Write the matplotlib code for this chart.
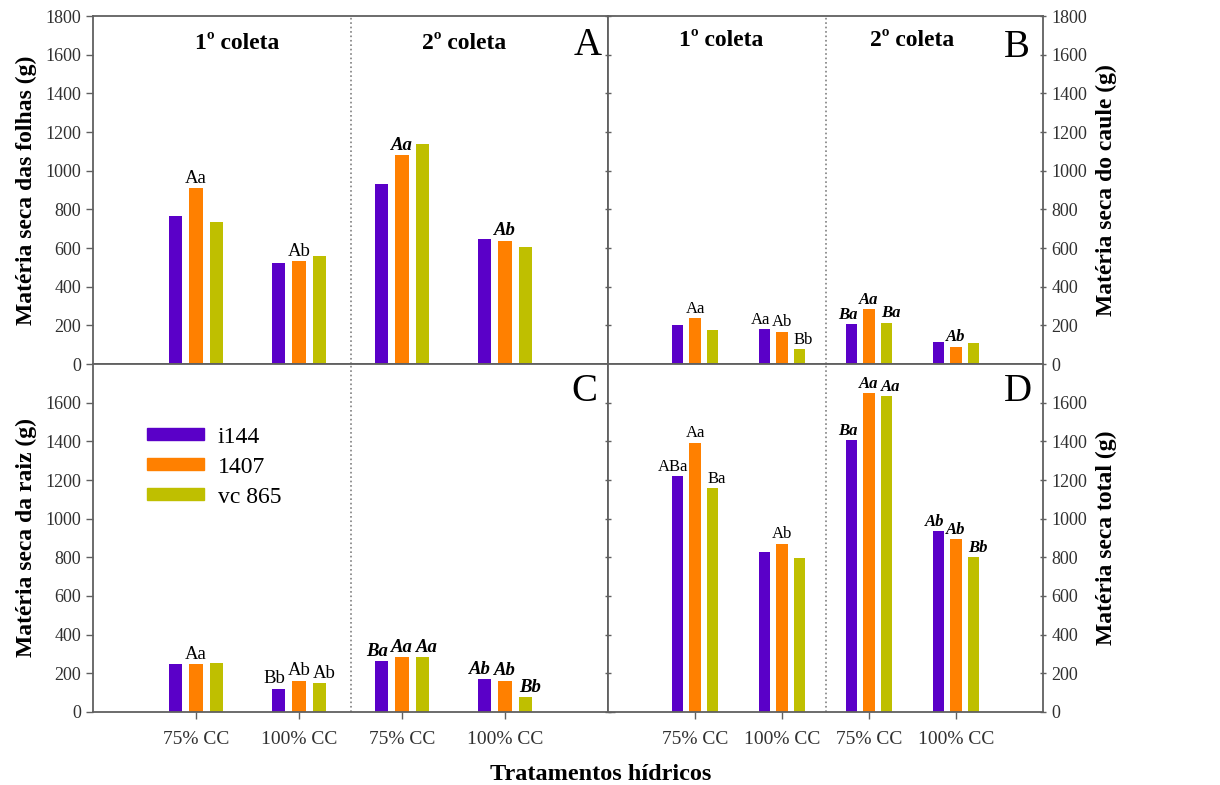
#!/usr/bin/env python3

import numpy as np
import matplotlib
matplotlib.use('Agg')
from matplotlib import pyplot as plt
from matplotlib.patches import Patch

plt.rcParams['font.family'] = ['Liberation Serif', 'DejaVu Serif']

groups = ['75% CC', '100% CC', '75% CC', '100% CC']
cultivars = ['i144', '1407', 'vc 865']
colors = ['#5a00c8', '#ff8000', '#bfbf00']

# values per group (1a coleta 75%, 100%, 2a coleta 75%, 100%)
folhas_i144 = [765, 521, 933, 645]
folhas_1407 = [908, 531, 1080, 637]
folhas_vc865 = [733, 559, 1137, 607]

caule_i144 = [200, 181, 205, 114]
caule_1407 = [236, 167, 283, 90]
caule_vc865 = [176, 76, 214, 110]

raiz_i144 = [247, 121, 263, 170]
raiz_1407 = [247, 161, 282, 161]
raiz_vc865 = [251, 150, 282, 76]

total_i144 = [1219, 827, 1406, 936]
total_1407 = [1392, 870, 1648, 894]
total_vc865 = [1159, 796, 1634, 801]

# letters above bars, one row per group
folhas_lbl = [['', 'Aa', ''], ['', 'Ab', ''], ['', 'Aa', ''], ['', 'Ab', '']]
caule_lbl = [['', 'Aa', ''], ['Aa', 'Ab', 'Bb'], ['Ba', 'Aa', 'Ba'], ['', 'Ab', '']]
raiz_lbl = [['', 'Aa', ''], ['Bb', 'Ab', 'Ab'], ['Ba', 'Aa', 'Aa'], ['Ab', 'Ab', 'Bb']]
total_lbl = [['ABa', 'Aa', 'Ba'], ['', 'Ab', ''], ['Ba', 'Aa', 'Aa'], ['Ab', 'Ab', 'Bb']]

spine_col = '#606060'


def panel(ax, series, labels, letter, letter_pos, ylabel, lblsize, right=False, bottom=False):
    x = np.arange(1, len(groups) + 1)
    for i, vals in enumerate(series):
        pos = x + (i - 1) * 0.2
        ax.bar(pos, vals, width=0.13, color=colors[i], zorder=2)
        for g in range(len(groups)):
            txt = labels[g][i]
            if not txt:
                continue
            # spread crowded groups a little
            dx = (i - 1) * 3 if all(labels[g]) else 0
            if g >= 2:
                ax.annotate(txt, (pos[g], vals[g]), xytext=(dx, 1), textcoords='offset points',
                            ha='center', va='bottom', fontsize=lblsize, fontweight='bold', style='italic')
            else:
                ax.annotate(txt, (pos[g], vals[g]), xytext=(dx, 1), textcoords='offset points',
                            ha='center', va='bottom', fontsize=lblsize)
    ax.axvline(2.5, color='#808080', ls=':', lw=1.2, zorder=1)
    ax.set_xlim(0, 5)
    ax.set_ylim(0, 1800)
    ax.set_xticks(x)
    if bottom:
        ax.set_xticklabels(groups, fontsize=14, color='#303030')
        ax.set_yticks(np.arange(0, 1700, 200))
    else:
        ax.set_xticklabels([])
        ax.set_yticks(np.arange(0, 1900, 200))
    for s in ax.spines.values():
        s.set_color(spine_col)
        s.set_linewidth(1.3)
    ax.tick_params(colors=spine_col, labelcolor='#303030', length=5, width=1)
    ax.tick_params(axis='y', labelsize=13)
    ax.tick_params(axis='x', pad=9)
    if right:
        ax.yaxis.tick_right()
        ax.yaxis.set_label_position('right')
        ax.tick_params(axis='y', left=True, labelleft=False, direction='inout')
    else:
        ax.tick_params(axis='y', right=True, direction='out')
    ax.set_ylabel(ylabel, fontsize=17, fontweight='bold', labelpad=6)
    ax.text(letter_pos[0], letter_pos[1], letter, transform=ax.transAxes,
            ha='center', va='center', fontsize=28)


fig = plt.figure(figsize=(12.2, 7.85), dpi=100)
gs = fig.add_gridspec(2, 2, width_ratios=[515, 435], wspace=0, hspace=0,
                      left=0.0762, right=0.855, top=0.9796, bottom=0.093)
axA = fig.add_subplot(gs[0, 0])
axB = fig.add_subplot(gs[0, 1])
axC = fig.add_subplot(gs[1, 0])
axD = fig.add_subplot(gs[1, 1])

panel(axA, [folhas_i144, folhas_1407, folhas_vc865], folhas_lbl, 'A', (0.96, 0.915),
      'Matéria seca das folhas (g)', 13.5)
panel(axB, [caule_i144, caule_1407, caule_vc865], caule_lbl, 'B', (0.94, 0.91),
      'Matéria seca do caule (g)', 12, right=True)
panel(axC, [raiz_i144, raiz_1407, raiz_vc865], raiz_lbl, 'C', (0.955, 0.92),
      'Matéria seca da raiz (g)', 13.5, bottom=True)
panel(axD, [total_i144, total_1407, total_vc865], total_lbl, 'D', (0.943, 0.92),
      'Matéria seca total (g)', 12, right=True, bottom=True)

# coleta headers
axA.text(1.4, 1660, '1º coleta', ha='center', va='center', fontsize=17, fontweight='bold')
axA.text(3.6, 1660, '2º coleta', ha='center', va='center', fontsize=17, fontweight='bold')
axB.text(1.3, 1675, '1º coleta', ha='center', va='center', fontsize=17, fontweight='bold')
axB.text(3.5, 1675, '2º coleta', ha='center', va='center', fontsize=17, fontweight='bold')

handles = [Patch(color=c) for c in colors]
axC.legend(handles, cultivars, loc='upper left', bbox_to_anchor=(0.105, 0.82), frameon=False,
           fontsize=17, handlelength=2.4, handleheight=0.42, borderpad=0, borderaxespad=0,
           labelspacing=0.38, handletextpad=0.6)

fig.text(0.492, 0.0, 'Tratamentos hídricos', ha='center', va='bottom', fontsize=17.5, fontweight='bold')

fig.savefig('out.png', dpi=100)
